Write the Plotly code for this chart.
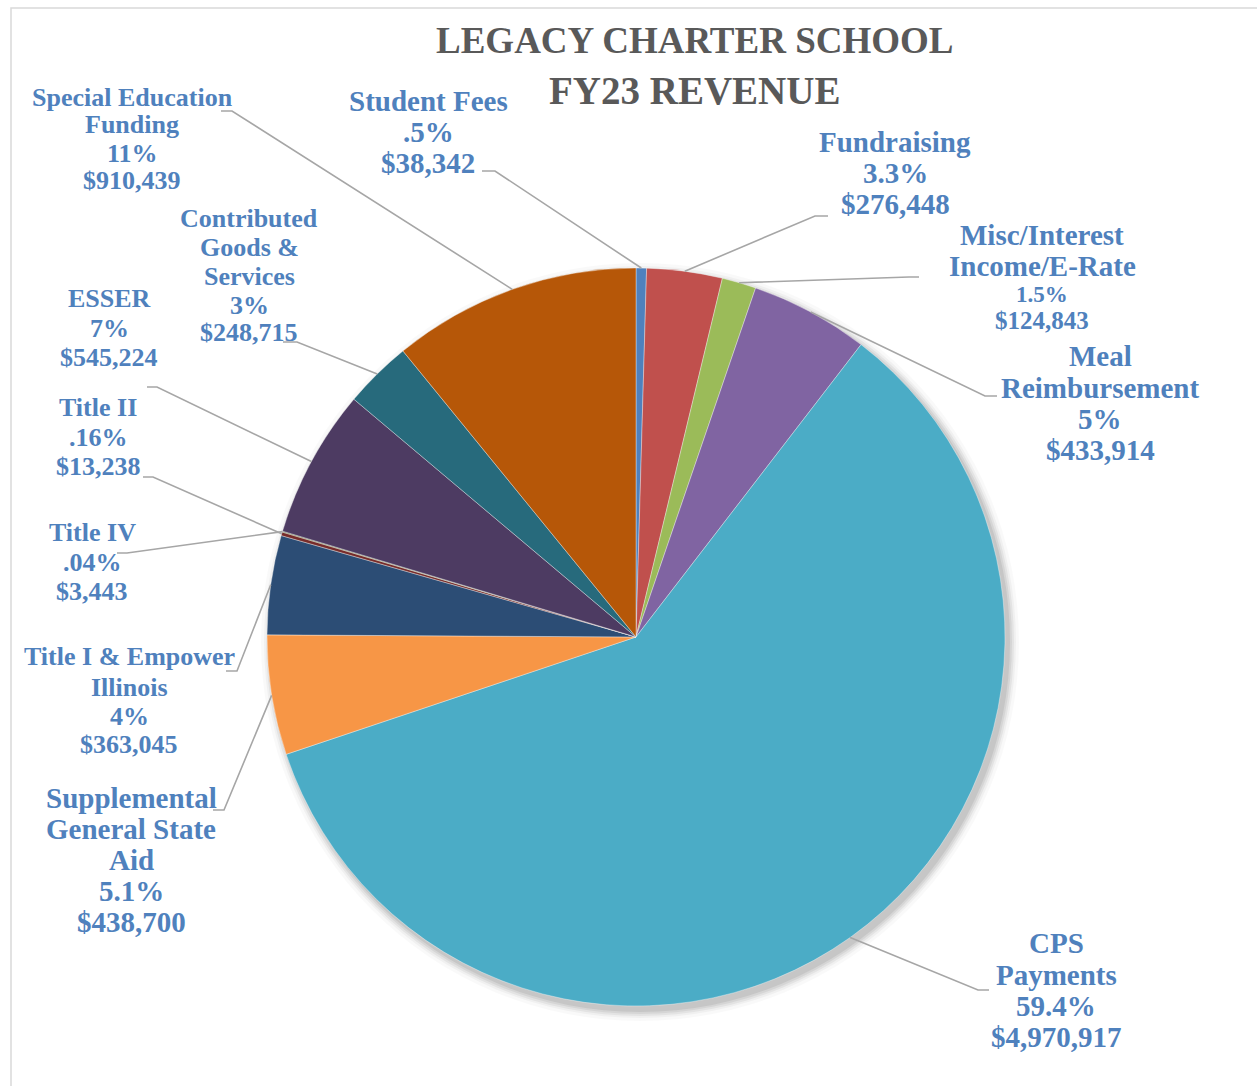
import math
import plotly.graph_objects as go

# ---------------- data ----------------
categories = [
    "Student Fees", "Fundraising", "Misc/Interest Income/E-Rate",
    "Meal Reimbursement", "CPS Payments", "Supplemental General State Aid",
    "Title I & Empower Illinois", "Title II", "Title IV", "ESSER",
    "Contributed Goods & Services", "Special Education Funding",
]
values = [38342, 276448, 124843, 433914, 4970917, 438700, 363045,
          13238, 3443, 545224, 248715, 910439]
pct_labels = [".5%", "3.3%", "1.5%", "5%", "59.4%", "5.1%", "4%",
              ".16%", ".04%", "7%", "3%", "11%"]
# how each category name is broken over lines in the label
name_lines = [
    ["Student Fees"], ["Fundraising"], ["Misc/Interest", "Income/E-Rate"],
    ["Meal", "Reimbursement"], ["CPS", "Payments"],
    ["Supplemental", "General State", "Aid"],
    ["Title I & Empower", "Illinois"], ["Title II"], ["Title IV"], ["ESSER"],
    ["Contributed", "Goods &", "Services"], ["Special Education", "Funding"],
]
colors = ["#4F81BD", "#C0504D", "#9BBB59", "#8064A2", "#4BACC6", "#F79646",
          "#2C4D75", "#772C2A", "#5F7530", "#4D3B62", "#276A7C", "#B65708"]
title_lines = ["LEGACY CHARTER SCHOOL", "FY23 REVENUE"]

# ---------------- layout (pixels) ----------------
W, H = 1257, 1086
CX, CY, R = 636, 637, 369
L, S = 29, 26
LABEL_COLOR = "#4F81BD"
FONT = "Liberation Serif"

# per category: label centre x, y of each line, size of each line, tail, elbow
label_layout = [
    dict(cx=428, ys=[101, 132, 163], sz=[L, L, L], tail=(482, 171), elbow=(495, 171)),
    dict(cx=895, ys=[142, 173, 204], sz=[L, L, L], tail=(828, 216), elbow=(815, 216)),
    dict(cx=1042, ys=[235, 266, 294, 320], sz=[L, L, 23, 25], tail=(919, 277), elbow=(909, 277)),
    dict(cx=1100, ys=[356, 388, 419, 450], sz=[L, L, L, L], tail=(997, 396), elbow=(985, 396)),
    dict(cx=1056, ys=[943, 975, 1006, 1037], sz=[L, L, L, L], tail=(989, 990), elbow=(978, 990)),
    dict(cx=131, ys=[798, 829, 860, 891, 922], sz=[L, L, L, L, L], tail=(213, 810), elbow=(224, 810)),
    dict(cx=129, ys=[656, 687, 716, 744], sz=[S, S, S, S], tail=(226, 671), elbow=(237, 671)),
    dict(cx=98, ys=[407, 438, 466], sz=[S, S, S], tail=(143, 477), elbow=(153, 477)),
    dict(cx=92, ys=[532, 562, 591], sz=[S, S, S], tail=(117, 553), elbow=(127, 553)),
    dict(cx=109, ys=[298, 329, 358], sz=[S, S, S], tail=(147, 387), elbow=(157, 387)),
    dict(cx=249, ys=[219, 247, 276, 305, 333], sz=[S, S, S, S, S], tail=(283, 342), elbow=(297, 342)),
    dict(cx=132, ys=[97, 125, 153, 181], sz=[S, S, S, S], tail=(221, 111), elbow=(232, 111)),
]


def px(x):
    return x / W


def py(y):
    return 1 - y / H


fig = go.Figure()
fig.add_trace(go.Pie(
    labels=categories, values=values, sort=False, direction="clockwise",
    rotation=0, textinfo="none", hoverinfo="label+value+percent",
    marker=dict(colors=colors, line=dict(color="rgba(255,255,255,0.45)", width=0.8)),
    domain=dict(x=[px(CX - R), px(CX + R)], y=[py(CY + R), py(CY - R)]),
    showlegend=False,
))

shapes = []
# frame
shapes.append(dict(type="rect", xref="paper", yref="paper",
                   x0=px(11), x1=px(W + 20), y0=py(H + 20), y1=py(8),
                   line=dict(color="#D9D9D9", width=1.5), fillcolor="rgba(0,0,0,0)",
                   layer="below"))
# soft shadow behind the pie
for grow, op in [(10, 0.025), (7, 0.035), (5, 0.05), (3, 0.06), (1, 0.07)]:
    sx, sy = CX + 4, CY + 5
    shapes.append(dict(type="circle", xref="paper", yref="paper",
                       x0=px(sx - R - grow), x1=px(sx + R + grow),
                       y0=py(sy + R + grow), y1=py(sy - R - grow),
                       line=dict(width=0), fillcolor=f"rgba(0,0,0,{op})",
                       layer="below"))

# leader lines, ending at each slice's mid angle on the rim
total = sum(values)
cum = 0.0
for v, lay in zip(values, label_layout):
    mid = 2 * math.pi * (cum + v / 2) / total
    cum += v
    ex = CX + R * math.sin(mid)
    ey = CY - R * math.cos(mid)
    (tx, ty), (bx, by) = lay["tail"], lay["elbow"]
    path = (f"M {px(tx)},{py(ty)} L {px(bx)},{py(by)} L {px(ex)},{py(ey)}")
    shapes.append(dict(type="path", xref="paper", yref="paper", path=path,
                       line=dict(color="#A6A6A6", width=1.6), layer="above"))

annotations = []
for names, pct, v, lay in zip(name_lines, pct_labels, values, label_layout):
    lines = names + [pct, f"${v:,}"]
    for text, y, size in zip(lines, lay["ys"], lay["sz"]):
        annotations.append(dict(
            x=px(lay["cx"]), y=py(y), xref="paper", yref="paper",
            text=text, showarrow=False, xanchor="center", yanchor="middle",
            font=dict(family=FONT, size=size, color=LABEL_COLOR, weight="bold"),
        ))

for text, y, size in zip(title_lines, [40, 91], [37, 39]):
    annotations.append(dict(
        x=px(694), y=py(y), xref="paper", yref="paper", text=text,
        showarrow=False, xanchor="center", yanchor="middle",
        font=dict(family=FONT, size=size, color="#595959", weight="bold"),
    ))

fig.update_layout(
    width=W, height=H, margin=dict(l=0, r=0, t=0, b=0),
    paper_bgcolor="white", plot_bgcolor="white",
    shapes=shapes, annotations=annotations,
)

fig.write_html("out.html", config={"displayModeBar": False},
               post_script="document.body.style.margin='0';"
                           "document.body.style.overflow='hidden';")
